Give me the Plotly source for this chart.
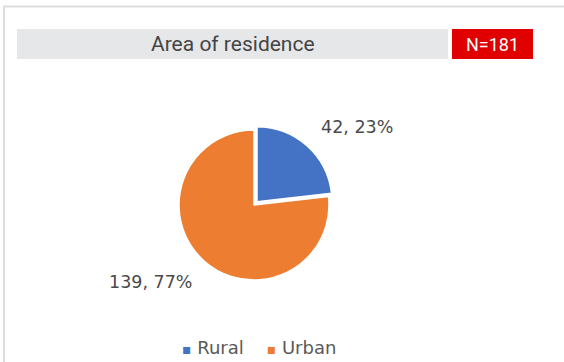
import plotly.graph_objects as go

# Area of residence breakdown
categories = ["Rural", "Urban"]
counts = [42, 139]
colors = ["#4472C4", "#ED7D31"]
title_text = "Area of residence"
n_total = sum(counts)

W, H = 564, 362


def px(x):
    return x / W


def py(y):
    return 1 - y / H


pull = [0.06, 0.0]
cx, cy, r = 254, 205, 75
half = r * (1 + max(pull))

fig = go.Figure(
    go.Pie(
        labels=categories,
        values=counts,
        sort=False,
        direction="clockwise",
        rotation=0,
        pull=pull,
        marker=dict(colors=colors, line=dict(color="white", width=1.5)),
        textinfo="none",
        hoverinfo="label+value+percent",
        showlegend=False,
        domain=dict(x=[px(cx - half), px(cx + half)], y=[py(cy + half), py(cy - half)]),
    )
)

total = sum(counts)
pct = [round(100 * v / total) for v in counts]
label_pos = [(357, 127), (150, 282)]
annotations = []
for (lx, ly), v, p in zip(label_pos, counts, pct):
    annotations.append(
        dict(
            x=px(lx), y=py(ly), xref="paper", yref="paper",
            text=f"{v}, {p}%", showarrow=False,
            font=dict(family="DejaVu Sans", size=17.5, color="#4a4a4a"),
            xanchor="center", yanchor="middle",
        )
    )

# legend row: coloured square + category name
legend_parts = []
for c, col in zip(categories, colors):
    legend_parts.append(f"<span style='color:{col};font-size:14px'>▪</span> {c}")
annotations.append(
    dict(
        x=px(259), y=py(347), xref="paper", yref="paper",
        text="    ".join(legend_parts), showarrow=False,
        font=dict(family="DejaVu Sans", size=18, color="#595959"),
        xanchor="center", yanchor="middle",
    )
)

# header text
annotations.append(
    dict(
        x=px(233), y=py(44), xref="paper", yref="paper",
        text=title_text, showarrow=False,
        font=dict(family="Roboto", size=21, color="#444444"),
        xanchor="center", yanchor="middle",
    )
)
annotations.append(
    dict(
        x=px(492.5), y=py(44), xref="paper", yref="paper",
        text=f"N={n_total}", showarrow=False,
        font=dict(family="Roboto", size=18, color="white"),
        xanchor="center", yanchor="middle",
    )
)

shapes = [
    # card frame (top and left edges)
    dict(type="path", xref="paper", yref="paper",
         path=f"M {px(4)} {py(362)} L {px(4)} {py(6.5)} L {px(564)} {py(6.5)}",
         line=dict(color="#dddddd", width=2)),
    # title bar
    dict(type="rect", xref="paper", yref="paper",
         x0=px(17), x1=px(448), y0=py(59), y1=py(29),
         fillcolor="#e6e7e9", line=dict(width=0), layer="below"),
    # sample-size badge
    dict(type="rect", xref="paper", yref="paper",
         x0=px(452), x1=px(533), y0=py(59), y1=py(29),
         fillcolor="#e00000", line=dict(width=0), layer="below"),
]

fig.update_layout(
    width=W, height=H,
    margin=dict(l=0, r=0, t=0, b=0),
    paper_bgcolor="white",
    plot_bgcolor="white",
    annotations=annotations,
    shapes=shapes,
)

fig.write_html("out.html")
